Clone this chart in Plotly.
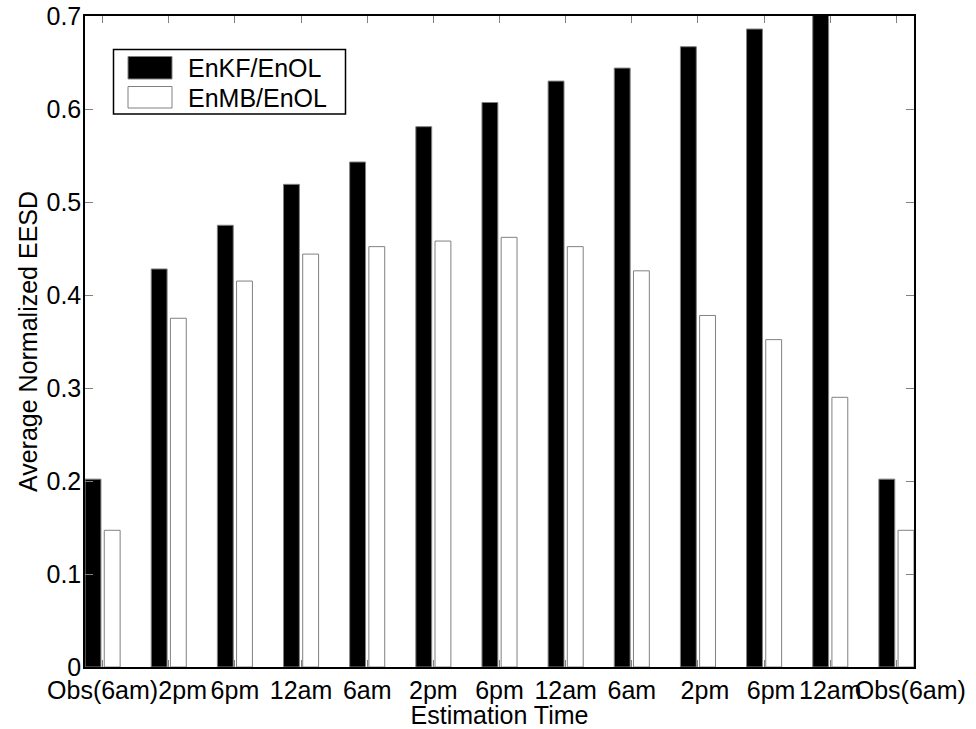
import plotly.graph_objects as go

NBSP = "\u00a0"

# Estimation times along the x axis (one group of two bars each);
# a few labels carry leading no-break spaces to nudge them right.
time_labels = ["Obs(6am)", NBSP * 4 + "2pm", "6pm", "12am", "6am", "2pm", "6pm",
               "12am", "6am", NBSP * 2 + "2pm", NBSP * 2 + "6pm", "12am",
               NBSP * 4 + "Obs(6am)"]
positions = list(range(len(time_labels)))

# Average normalized EESD ratios
enkf_enol = [0.202, 0.428, 0.475, 0.519, 0.543, 0.581, 0.607,
             0.630, 0.644, 0.667, 0.686, 0.705, 0.202]
enmb_enol = [0.147, 0.375, 0.415, 0.444, 0.452, 0.458, 0.462,
             0.452, 0.426, 0.378, 0.352, 0.290, 0.147]

series_names = ["EnKF/EnOL", "EnMB/EnOL"]
y_ticks = [0, 0.1, 0.2, 0.3, 0.4, 0.5, 0.6, 0.7]
y_tick_text = ["0", "0.1", "0.2", "0.3", "0.4", "0.5", "0.6", "0.7"]

W, H = 976, 729
ML, MR, MT, MB = 85, 62, 16, 62
PW, PH = W - ML - MR, H - MT - MB

FONT = "Liberation Sans, Arial, Helvetica, sans-serif"
EDGE = "#808080"


def px_x(px):
    return (px - ML) / PW


def px_y(py):
    return (H - MB - py) / PH


fig = go.Figure()
fig.add_trace(go.Bar(
    x=positions, y=enkf_enol, name=series_names[0],
    width=0.24, offset=-0.265,
    marker=dict(color="black", line=dict(color=EDGE, width=1)),
    showlegend=False,
))
fig.add_trace(go.Bar(
    x=positions, y=enmb_enol, name=series_names[1],
    width=0.24, offset=0.025,
    marker=dict(color="white", line=dict(color=EDGE, width=1)),
    showlegend=False,
))

# Boxed legend with wide swatches
shapes = [
    dict(type="rect", xref="paper", yref="paper",
         x0=px_x(113.5), x1=px_x(345.5), y0=px_y(114), y1=px_y(49.5),
         line=dict(color="black", width=1.5), fillcolor="white", layer="above"),
    dict(type="rect", xref="paper", yref="paper",
         x0=px_x(128), x1=px_x(172), y0=px_y(79), y1=px_y(56.5),
         line=dict(color=EDGE, width=1), fillcolor="black", layer="above"),
    dict(type="rect", xref="paper", yref="paper",
         x0=px_x(128), x1=px_x(172), y0=px_y(108), y1=px_y(86.5),
         line=dict(color=EDGE, width=1), fillcolor="white", layer="above"),
]
annotations = [
    dict(xref="paper", yref="paper", x=px_x(186), y=px_y(67.5),
         text=series_names[0], showarrow=False, xanchor="left", yanchor="middle",
         font=dict(family=FONT, size=25, color="black")),
    dict(xref="paper", yref="paper", x=px_x(186), y=px_y(97.5),
         text=series_names[1], showarrow=False, xanchor="left", yanchor="middle",
         font=dict(family=FONT, size=25, color="black")),
]

fig.update_layout(
    width=W, height=H, autosize=False,
    margin=dict(l=ML, r=MR, t=MT, b=MB, pad=0),
    paper_bgcolor="white", plot_bgcolor="white",
    font=dict(family=FONT, size=25, color="black"),
    barmode="group",
    shapes=shapes, annotations=annotations,
)
fig.update_xaxes(
    range=[-0.266, 12.266], automargin=False,
    tickvals=positions, ticktext=time_labels, tickangle=0,
    ticks="inside", ticklen=7, tickwidth=1, tickcolor=EDGE,
    showline=True, linecolor="black", linewidth=1.5, mirror="ticks",
    showgrid=False, zeroline=False,
    tickfont=dict(family=FONT, size=25, color="black"),
    title=dict(text="Estimation Time", standoff=2,
               font=dict(family=FONT, size=25, color="black")),
)
fig.update_yaxes(
    range=[0, 0.7], automargin=False,
    tickvals=y_ticks, ticktext=y_tick_text,
    ticks="inside", ticklen=8, tickwidth=1, tickcolor=EDGE,
    ticklabelstandoff=-3,
    showline=True, linecolor="black", linewidth=1.5, mirror="ticks",
    showgrid=False, zeroline=False,
    tickfont=dict(family=FONT, size=25, color="black"),
    title=dict(text="Average Normalized EESD", standoff=2,
               font=dict(family=FONT, size=25, color="black")),
)

fig.write_html("out.html")
